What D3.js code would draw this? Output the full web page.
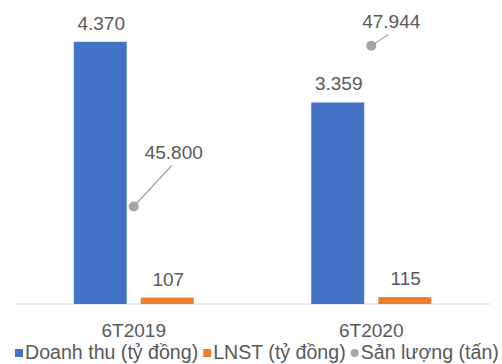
<!DOCTYPE html>
<html>
<head>
<meta charset="utf-8">
<script src="https://cdn.jsdelivr.net/npm/d3@7"></script>
<style>
  html, body { margin: 0; padding: 0; background: #fff; }
  svg { display: block; }
  text { font-family: "Liberation Sans", Arial, sans-serif; }
</style>
</head>
<body>
<div id="chart"></div>
<script>
const categories = ["6T2019", "6T2020"];
const doanhThu = [4370, 3359];
const lnst = [107, 115];
const sanLuong = [45800, 47944];
const seriesNames = ["Doanh thu (tỷ đồng)", "LNST (tỷ đồng)", "Sản lượng (tấn)"];
const barSeries = ["doanhThu", "lnst"];

const W = 502, H = 364;
const colors = { doanhThu: "#4472c4", lnst: "#ed7d31", sanLuong: "#a5a5a5" };
const textColor = "#595959";
const fontSize = 19;
const legendFontSize = 19.6;

const svg = d3.select("#chart").append("svg").attr("width", W).attr("height", H);

const plot = { left: 15, right: 490, top: 4, bottom: 304 };

const x0 = d3.scaleBand().domain(categories).range([plot.left, plot.right]).padding(0);
const x1 = d3.scaleBand().domain(barSeries).range([-60, 60]).paddingInner(0.21).paddingOuter(0);
const y = d3.scaleLinear().domain([0, 5000]).range([plot.bottom, plot.top]);
const y2 = d3.scaleLinear().domain([44500, 48500]).range([plot.bottom, plot.top]);

const loc = d3.formatLocale({ decimal: ",", thousands: ".", grouping: [3], currency: ["", ""] });
const fmt = loc.format(",d");

const barData = [];
categories.forEach((c, i) => {
  barData.push({ cat: c, key: "doanhThu", value: doanhThu[i] });
  barData.push({ cat: c, key: "lnst", value: lnst[i] });
});

// axis line (category axis)
const xAxis = d3.axisBottom(x0).tickSize(0).tickPadding(0);
const gx = svg.append("g").attr("transform", `translate(0,${plot.bottom})`).call(xAxis);
gx.select(".domain").attr("stroke", "#d9d9d9").attr("stroke-width", 1.2).attr("d", `M${plot.left},0H${plot.right}`);
gx.selectAll(".tick text")
  .attr("y", 33)
  .attr("dy", 0)
  .attr("fill", textColor)
  .style("font-size", fontSize + "px")
  .style("font-family", "'Liberation Sans', Arial, sans-serif");

// bars
svg.append("g").selectAll("rect").data(barData).join("rect")
  .attr("x", d => x0(d.cat) + x0.bandwidth() / 2 + x1(d.key))
  .attr("width", x1.bandwidth())
  .attr("y", d => y(d.value))
  .attr("height", d => y(0) - y(d.value))
  .attr("fill", d => colors[d.key]);

// bar labels
svg.append("g").selectAll("text").data(barData).join("text")
  .attr("x", d => x0(d.cat) + x0.bandwidth() / 2 + x1(d.key) + x1.bandwidth() / 2 + 1)
  .attr("y", d => y(d.value) - 12)
  .attr("text-anchor", "middle")
  .attr("fill", textColor)
  .style("font-size", fontSize + "px")
  .text(d => fmt(d.value));

// points with leader lines
const ptData = categories.map((c, i) => ({ cat: c, value: sanLuong[i] }));
const labelOffset = [{ dx: 40, dy: -48, lx: 38, ly: -41 }, { dx: 20, dy: -18, lx: 17, ly: -11 }];

svg.append("g").selectAll("line").data(ptData).join("line")
  .attr("x1", d => x0(d.cat) + x0.bandwidth() / 2)
  .attr("y1", d => y2(d.value))
  .attr("x2", (d, i) => x0(d.cat) + x0.bandwidth() / 2 + labelOffset[i].lx)
  .attr("y2", (d, i) => y2(d.value) + labelOffset[i].ly)
  .attr("stroke", "#a6a6a6")
  .attr("stroke-width", 1.3);

svg.append("g").selectAll("circle").data(ptData).join("circle")
  .attr("cx", d => x0(d.cat) + x0.bandwidth() / 2)
  .attr("cy", d => y2(d.value))
  .attr("r", 5)
  .attr("fill", colors.sanLuong);

svg.append("g").selectAll("text").data(ptData).join("text")
  .attr("x", (d, i) => x0(d.cat) + x0.bandwidth() / 2 + labelOffset[i].dx)
  .attr("y", (d, i) => y2(d.value) + labelOffset[i].dy)
  .attr("text-anchor", "middle")
  .attr("fill", textColor)
  .style("font-size", fontSize + "px")
  .text(d => fmt(d.value));

// legend
const legend = svg.append("g").attr("transform", "translate(15,359)");
let lx = 0;
const keys = ["doanhThu", "lnst", "sanLuong"];
keys.forEach((k, i) => {
  if (k === "sanLuong") {
    legend.append("circle").attr("cx", lx + 4).attr("cy", -6).attr("r", 4).attr("fill", colors[k]);
  } else {
    legend.append("rect").attr("x", lx).attr("y", -10).attr("width", 8).attr("height", 8).attr("fill", colors[k]);
  }
  lx += 10;
  const t = legend.append("text").attr("x", lx).attr("y", 0)
    .attr("fill", textColor).style("font-size", legendFontSize + "px").text(seriesNames[i]);
  lx += t.node().getComputedTextLength() + 5;
});
</script>
</body>
</html>
